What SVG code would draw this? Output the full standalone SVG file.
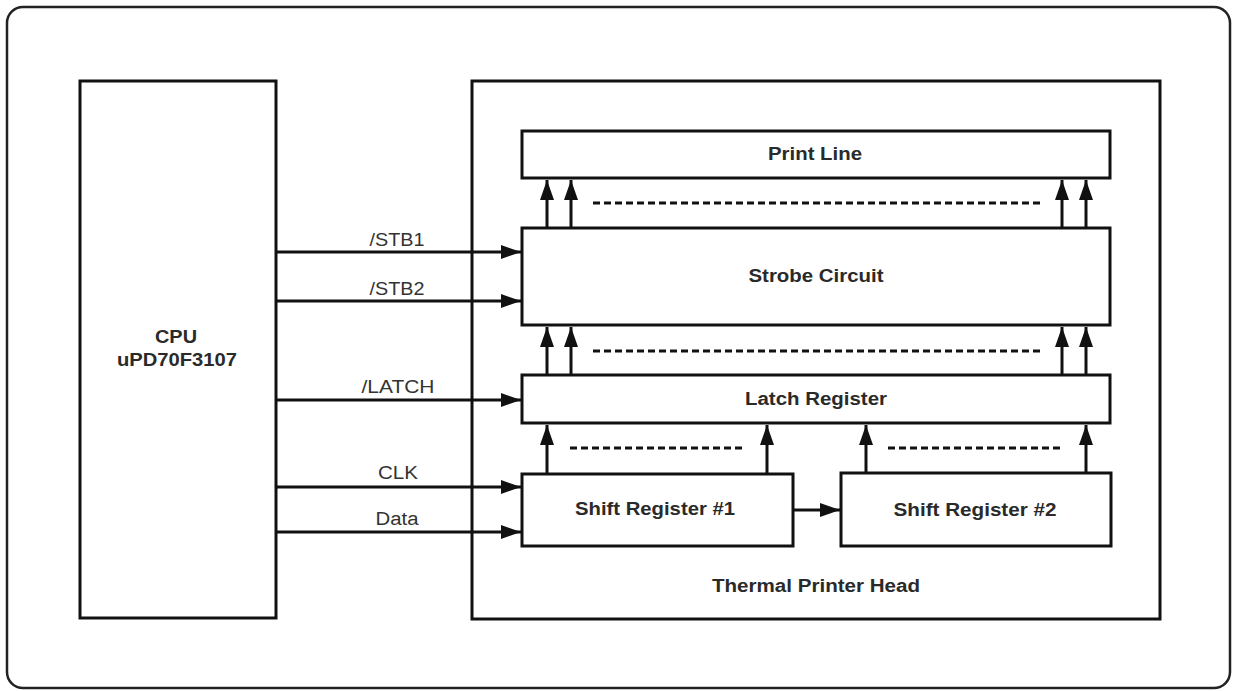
<svg xmlns="http://www.w3.org/2000/svg" width="1233" height="691" viewBox="0 0 1233 691">
<style>
.box{fill:#fff;stroke:#111;stroke-width:3}
.outer{fill:#fff;stroke:#222;stroke-width:2.5}
.conn{stroke:#111;stroke-width:3;fill:none}
.dash{stroke:#111;stroke-width:3;fill:none;stroke-dasharray:7 4}
.lbl{font-family:"Liberation Sans",Arial,sans-serif;font-size:18px;fill:#333;text-anchor:middle}
.bold{font-family:"Liberation Sans",Arial,sans-serif;font-size:18px;font-weight:bold;fill:#2a2a2a;text-anchor:middle}
</style>
<defs>
<marker id="ah" markerUnits="userSpaceOnUse" markerWidth="20" markerHeight="14" refX="20" refY="7" orient="auto">
<path d="M0,0 L20,7 L0,14 z" fill="#111"/>
</marker>
</defs>
<rect width="1233" height="691" fill="#fff"/>
<g id="frame"><rect class="outer" x="7" y="7" width="1223" height="681" rx="16" ry="16"/></g>
<g id="cpu">
<rect class="box" x="80" y="81" width="196" height="537"/>
<text class="bold" x="176" y="343" textLength="42" lengthAdjust="spacingAndGlyphs">CPU</text>
<text class="bold" x="177" y="366" textLength="120" lengthAdjust="spacingAndGlyphs">uPD70F3107</text>
</g>
<g id="head">
<rect class="box" x="472" y="81" width="688" height="538"/>
<text class="bold" x="816" y="592" textLength="208" lengthAdjust="spacingAndGlyphs">Thermal Printer Head</text>
</g>
<g id="printline">
<rect class="box" x="522" y="131" width="588" height="47"/>
<text class="bold" x="815" y="160" textLength="94" lengthAdjust="spacingAndGlyphs">Print Line</text>
</g>
<g id="strobe">
<rect class="box" x="522" y="228" width="588" height="97"/>
<text class="bold" x="816" y="282" textLength="135" lengthAdjust="spacingAndGlyphs">Strobe Circuit</text>
</g>
<g id="latch">
<rect class="box" x="522" y="375" width="588" height="48"/>
<text class="bold" x="816" y="405" textLength="142" lengthAdjust="spacingAndGlyphs">Latch Register</text>
</g>
<g id="sr1">
<rect class="box" x="522" y="474" width="271" height="72"/>
<text class="bold" x="655" y="515" textLength="160" lengthAdjust="spacingAndGlyphs">Shift Register #1</text>
</g>
<g id="sr2">
<rect class="box" x="841" y="473" width="270" height="73"/>
<text class="bold" x="975" y="516" textLength="163" lengthAdjust="spacingAndGlyphs">Shift Register #2</text>
</g>
<g id="connectors">
<line class="conn" x1="276" y1="252" x2="521" y2="252" marker-end="url(#ah)"/>
<line class="conn" x1="276" y1="301" x2="521" y2="301" marker-end="url(#ah)"/>
<line class="conn" x1="276" y1="400" x2="521" y2="400" marker-end="url(#ah)"/>
<line class="conn" x1="276" y1="487" x2="521" y2="487" marker-end="url(#ah)"/>
<line class="conn" x1="276" y1="532" x2="521" y2="532" marker-end="url(#ah)"/>
<text class="lbl" x="397" y="246" textLength="55" lengthAdjust="spacingAndGlyphs">/STB1</text>
<text class="lbl" x="397" y="295" textLength="55" lengthAdjust="spacingAndGlyphs">/STB2</text>
<text class="lbl" x="398" y="393" textLength="73" lengthAdjust="spacingAndGlyphs">/LATCH</text>
<text class="lbl" x="398" y="479" textLength="40" lengthAdjust="spacingAndGlyphs">CLK</text>
<text class="lbl" x="397" y="525" textLength="43" lengthAdjust="spacingAndGlyphs">Data</text>
<line class="conn" x1="547" y1="228" x2="547" y2="180" marker-end="url(#ah)"/>
<line class="conn" x1="571" y1="228" x2="571" y2="180" marker-end="url(#ah)"/>
<line class="conn" x1="1062" y1="228" x2="1062" y2="180" marker-end="url(#ah)"/>
<line class="conn" x1="1086" y1="228" x2="1086" y2="180" marker-end="url(#ah)"/>
<line class="dash" x1="593" y1="203" x2="1040" y2="203"/>
<line class="conn" x1="547" y1="375" x2="547" y2="327" marker-end="url(#ah)"/>
<line class="conn" x1="571" y1="375" x2="571" y2="327" marker-end="url(#ah)"/>
<line class="conn" x1="1062" y1="375" x2="1062" y2="327" marker-end="url(#ah)"/>
<line class="conn" x1="1086" y1="375" x2="1086" y2="327" marker-end="url(#ah)"/>
<line class="dash" x1="593" y1="351" x2="1040" y2="351"/>
<line class="conn" x1="547" y1="474" x2="547" y2="425" marker-end="url(#ah)"/>
<line class="conn" x1="767" y1="474" x2="767" y2="425" marker-end="url(#ah)"/>
<line class="conn" x1="866" y1="473" x2="866" y2="425" marker-end="url(#ah)"/>
<line class="conn" x1="1086" y1="473" x2="1086" y2="425" marker-end="url(#ah)"/>
<line class="dash" x1="570" y1="448" x2="746" y2="448"/>
<line class="dash" x1="888" y1="448" x2="1064" y2="448"/>
<line class="conn" x1="793" y1="510" x2="840" y2="510" marker-end="url(#ah)"/>
</g>
</svg>
